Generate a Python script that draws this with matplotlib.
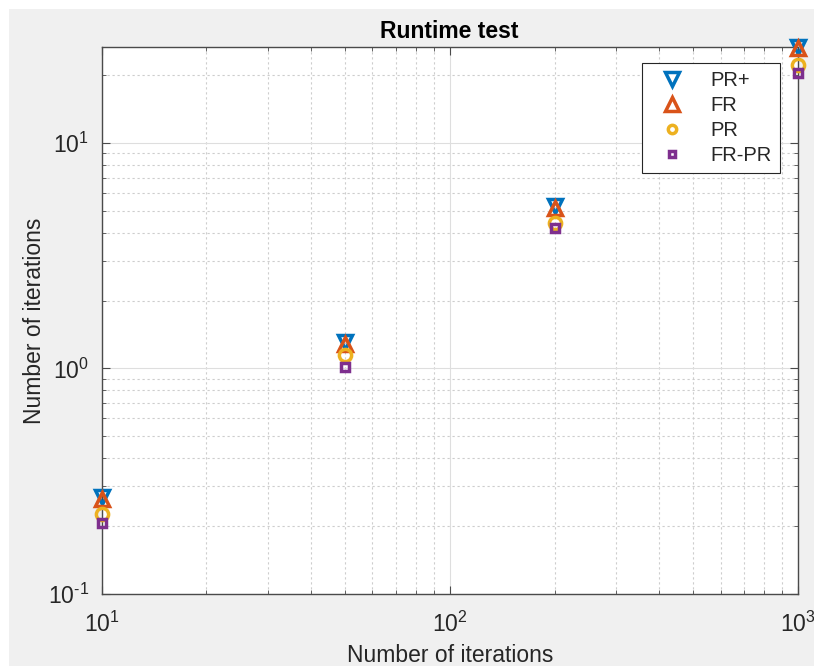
import matplotlib
matplotlib.use("Agg")
import matplotlib.pyplot as plt
from matplotlib.lines import Line2D
from matplotlib.patches import Rectangle
from matplotlib.ticker import FuncFormatter, LogLocator
import numpy as np

plt.rcParams['font.family'] = ['Liberation Sans', 'DejaVu Sans']
plt.rcParams['mathtext.fontset'] = 'custom'
plt.rcParams['mathtext.rm'] = 'Liberation Sans'
plt.rcParams['mathtext.it'] = 'Liberation Sans'
plt.rcParams['mathtext.default'] = 'regular'
plt.rcParams['axes.unicode_minus'] = False

# ---- data ----
iterations = [10, 50, 200, 1000]
pr_plus = [0.268, 1.31, 5.25, 26.7]
fr = [0.265, 1.29, 5.15, 26.3]
pr = [0.227, 1.147, 4.40, 22.1]
fr_pr = [0.206, 1.012, 4.19, 20.4]
series_names = ['PR+', 'FR', 'PR', 'FR-PR']

title = 'Runtime test'
xlabel = 'Number of iterations'
ylabel = 'Number of iterations'

colors = ['#0072BD', '#D95319', '#EDB120', '#7E2F8E']
markers = ['v', '^', 'o', 's']
msizes = [9.5, 9.5, 8.8, 5.5]
leg_sizes = [10, 10, 6.0, 5.0]


def pow_label(v, pos):
    e = int(round(np.log10(v)))
    if e < 0:
        return r'$10^{\text{-}%d}$' % (-e)
    return r'$10^{%d}$' % e


fig = plt.figure(figsize=(8.14, 6.66), dpi=100)
fig.patch.set_facecolor('white')
fig.patches.append(Rectangle((9 / 814, 0), 1, 1 - 9 / 666, transform=fig.transFigure,
                             facecolor='#f0f0f0', edgecolor='none', zorder=-10))

ax = fig.add_axes([101.5 / 814, (666 - 594) / 666, (798 - 101.5) / 814, (594 - 46.7) / 666])
ax.set_facecolor('white')
ax.set_xscale('log')
ax.set_yscale('log')

all_series = [pr_plus, fr, pr, fr_pr]
for vals, c, m, ms in zip(all_series, colors, markers, msizes):
    ax.plot(iterations, vals, linestyle='none', marker=m, markersize=ms,
            markerfacecolor='none', markeredgecolor=c, markeredgewidth=2.5,
            clip_on=False, zorder=5)

ax.set_xlim(10, 1000)
ax.set_ylim(0.1, max(pr_plus))
ax.xaxis.set_major_locator(LogLocator(base=10))
ax.yaxis.set_major_locator(LogLocator(base=10))
ax.xaxis.set_major_formatter(FuncFormatter(pow_label))
ax.yaxis.set_major_formatter(FuncFormatter(pow_label))

ax.grid(True, which='major', color='#dedede', linestyle='-', linewidth=0.8)
ax.grid(True, which='minor', color='#cdcdcd', linestyle=(0, (2, 2.5)), linewidth=0.8)
ax.set_axisbelow(True)

for s in ax.spines.values():
    s.set_color('#4a4a4a')
    s.set_linewidth(1.0)

ax.tick_params(which='both', direction='in', top=True, right=True,
               colors='#4a4a4a', labelcolor='#262626', labelsize=16.5)
ax.tick_params(which='major', length=6, width=0.8)
ax.tick_params(axis='x', which='major', pad=13)
ax.tick_params(axis='y', which='major', pad=9)
ax.tick_params(which='minor', length=3, width=0.6)

ax.set_title(title, fontsize=16.5, fontweight='bold', color='black', pad=6)
ax.set_xlabel(xlabel, fontsize=16.5, color='#262626', labelpad=5)
ax.set_ylabel(ylabel, fontsize=16.5, color='#262626', labelpad=1)

handles = [Line2D([], [], linestyle='none', marker=m, markersize=ms,
                  markerfacecolor='none', markeredgecolor=c, markeredgewidth=2.5)
           for m, c, ms in zip(markers, colors, leg_sizes)]
leg = ax.legend(handles, series_names, loc='upper right',
                bbox_to_anchor=(780 / 814, 1 - 63 / 666), bbox_transform=fig.transFigure,
                fontsize=14.5, frameon=True, fancybox=False, framealpha=1,
                edgecolor='#262626', borderpad=0.4, labelspacing=0.3,
                handlelength=2.2, handletextpad=0.8, borderaxespad=0)
leg.get_frame().set_linewidth(0.8)
for t in leg.get_texts():
    t.set_color('#262626')

fig.savefig('out.png', dpi=100, facecolor=fig.get_facecolor())
